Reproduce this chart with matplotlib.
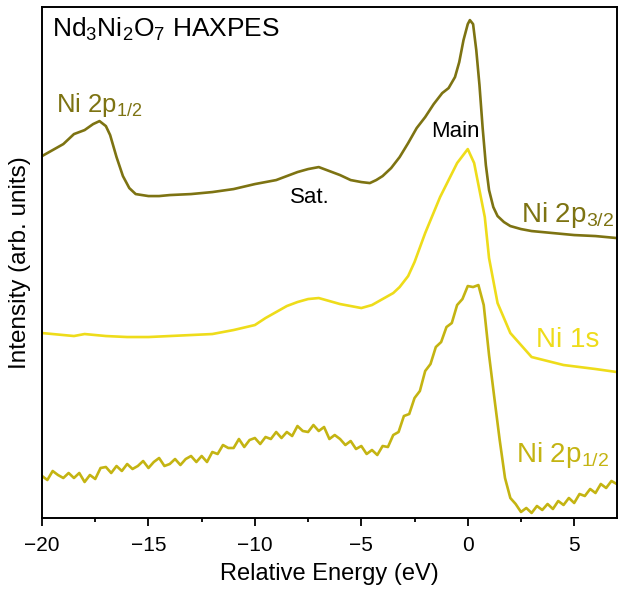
import matplotlib
matplotlib.use("Agg")
import matplotlib.pyplot as plt
from matplotlib.ticker import MultipleLocator

plt.rcParams['font.family'] = ['Liberation Sans', 'DejaVu Sans']
plt.rcParams['mathtext.fontset'] = 'custom'
plt.rcParams['mathtext.rm'] = 'Liberation Sans'
plt.rcParams['mathtext.it'] = 'Liberation Sans'

# Ni 2p3/2 (top trace)
e_2p32 = [-20, -19.5, -19, -18.5, -18, -17.6, -17.3, -17.0, -16.8, -16.5, -16.2, -15.9,
          -15.6, -15.3, -15.0, -14.5, -14, -13, -12, -11, -10, -9, -8.5, -8, -7.5, -7.0,
          -6.5, -6, -5.5, -5, -4.6, -4.3, -4.0, -3.6, -3.2, -2.8, -2.4, -2.0, -1.6, -1.2,
          -0.9, -0.6, -0.4, -0.2, 0.0, 0.1, 0.25, 0.4, 0.55, 0.7, 0.85, 1.0, 1.2, 1.4,
          1.7, 2.0, 2.5, 3, 4, 5, 6, 7]
i_2p32 = [362, 368, 374, 384, 388, 394, 397, 392, 383, 361, 342, 330,
          324, 323, 322, 322, 323, 324, 326, 329, 334, 338, 342, 346, 349, 351,
          347, 343, 338, 336, 335, 338, 342, 350, 361, 375, 390, 401, 414, 425,
          430, 441, 456, 478, 494, 498, 494, 468, 433, 390, 353, 328, 311, 302,
          296, 292, 289, 287, 285, 283, 282, 280]

# Ni 1s (middle trace)
e_1s = [-20, -19, -18.5, -18, -17, -16, -15, -14, -13, -12, -11, -10, -9.5, -9, -8.5,
        -8, -7.5, -7, -6.5, -6, -5.5, -5, -4.5, -4, -3.5, -3.2, -2.8, -2.5, -2, -1.3,
        -0.5, 0, 0.3, 0.8, 1.0, 1.4, 2.0, 3, 4.5, 6, 7]
i_1s = [185, 183, 182, 184, 182, 181, 181, 182, 183, 184, 188, 193, 200, 206, 212,
        216, 219, 220, 217, 214, 212, 210, 213, 219, 225, 231, 242, 256, 285, 321,
        355, 369, 355, 301, 260, 215, 185, 161, 153, 149, 146]

# Ni 2p1/2 (bottom trace)
e_2p12 = [-20, -19.75, -19.5, -19.25, -19, -18.75, -18.5, -18.25, -18, -17.75, -17.5,
          -17.25, -17, -16.75, -16.5, -16.25, -16, -15.75, -15.5, -15.25, -15, -14.75,
          -14.5, -14.25, -14, -13.75, -13.5, -13.25, -13, -12.75, -12.5, -12.25, -12,
          -11.75, -11.5, -11.25, -11, -10.75, -10.5, -10.25, -10, -9.75, -9.5, -9.25,
          -9, -8.75, -8.5, -8.25, -8, -7.75, -7.5, -7.25, -7, -6.75, -6.5, -6.25, -6,
          -5.75, -5.5, -5.25, -5, -4.75, -4.5, -4.25, -4, -3.75, -3.5, -3.25, -3,
          -2.75, -2.5, -2.25, -2, -1.75, -1.5, -1.25, -1, -0.75, -0.5, -0.25, 0, 0.25,
          0.5, 0.75, 1, 1.25, 1.5, 1.75, 2, 2.25, 2.5, 2.75, 3, 3.25, 3.5, 3.75, 4,
          4.25, 4.5, 4.75, 5, 5.25, 5.5, 5.75, 6, 6.25, 6.5, 6.75, 7]
i_2p12 = [42, 38, 47, 43, 40, 45, 40, 45, 36, 43, 39,
          50, 51, 45, 52, 47, 54, 49, 52, 57, 50, 56,
          60, 52, 54, 59, 53, 59, 62, 56, 62, 56, 66,
          64, 73, 70, 70, 79, 71, 78, 80, 74, 81, 79,
          86, 80, 86, 82, 92, 87, 86, 93, 87, 91, 79, 83, 79,
          73, 77, 69, 72, 64, 68, 63, 72, 71, 83, 86, 102,
          104, 120, 127, 147, 154, 171, 176, 191, 195, 213, 219, 232, 231,
          233, 213, 163, 120, 78, 40, 20, 14, 6, 10, 5, 12, 8, 14, 9,
          17, 13, 20, 15, 24, 22, 29, 25, 34, 30, 37, 34]

c_2p32 = "#7d7312"
c_1s = "#eedc1a"
c_2p12 = "#c4b412"

fig = plt.figure(figsize=(6.18, 5.93), dpi=100)
ax = fig.add_axes([0.068, 0.1265, 0.93, 0.8615])

ax.plot(e_2p32, i_2p32, color=c_2p32, lw=1.9)
ax.plot(e_1s, i_1s, color=c_1s, lw=1.9)
ax.plot(e_2p12, i_2p12, color=c_2p12, lw=1.9)

ax.set_xlim(-20, 7)
ax.set_ylim(0, 511)
ax.xaxis.set_major_locator(MultipleLocator(5))
ax.xaxis.set_minor_locator(MultipleLocator(2.5))
ax.set_yticks([])
ax.tick_params(axis='x', which='major', direction='out', length=6, width=1.3,
               labelsize=15, pad=7)
ax.tick_params(axis='x', which='minor', direction='out', length=3, width=1.3)
for s in ax.spines.values():
    s.set_linewidth(1.4)

ax.set_xlabel("Relative Energy (eV)", fontsize=17, labelpad=6)
ax.set_ylabel("Intensity (arb. units)", fontsize=17.5, labelpad=8)

ax.text(-19.55, 481, r"Nd$_3$Ni$_2$O$_7$ HAXPES", fontsize=19, va='baseline')
ax.text(-19.35, 406, r"Ni 2p$_{1/2}$", fontsize=18.5, color=c_2p32, va='baseline')
ax.text(-1.7, 381, "Main", fontsize=16, va='baseline')
ax.text(-7.4, 315, "Sat.", fontsize=16, va='baseline', ha='center')
ax.text(2.5, 296, r"Ni 2p$_{3/2}$", fontsize=20, color=c_2p32, va='baseline')
ax.text(3.2, 171, "Ni 1s", fontsize=20, color=c_1s, va='baseline')
ax.text(2.25, 56, r"Ni 2p$_{1/2}$", fontsize=20, color=c_2p12, va='baseline')

fig.savefig("out.png", dpi=100)
